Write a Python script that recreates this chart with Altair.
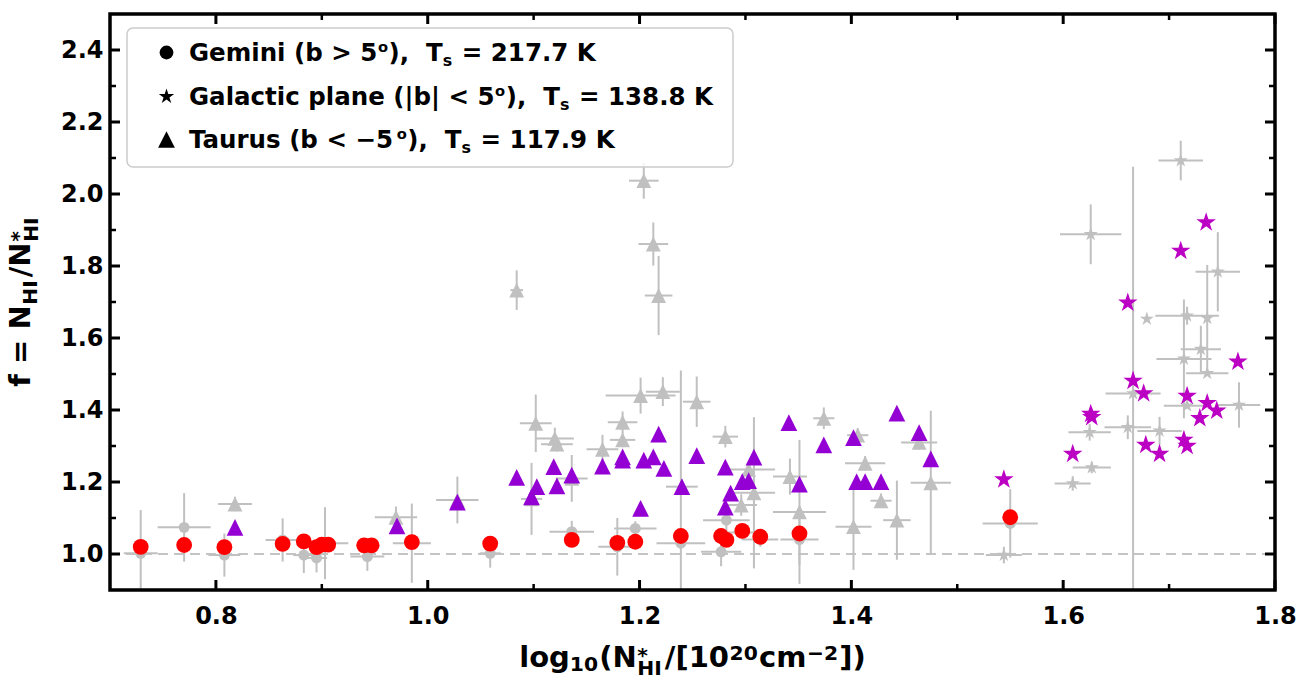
import math
import altair as alt
import pandas as pd

# ---------------------------------------------------------------- data
# Gemini (b > 5 deg): fitted ratio (red) and comparison values with errors (grey)
gem_x = [0.729, 0.770, 0.808, 0.863, 0.883, 0.895, 0.900, 0.906, 0.940, 0.947, 0.985, 1.059,
         1.136, 1.179, 1.196, 1.239, 1.277, 1.282, 1.297, 1.314, 1.351, 1.550]
gem_f = [1.020, 1.025, 1.019, 1.028, 1.035, 1.019, 1.026, 1.026, 1.024, 1.024, 1.033, 1.029,
         1.039, 1.031, 1.034, 1.050, 1.050, 1.039, 1.064, 1.048, 1.057, 1.102]
gem_gx = [0.729, 0.770, 0.808, 0.863, 0.883, 0.895, 0.903, 0.943, 0.985, 1.059, 1.136, 1.179,
          1.196, 1.239, 1.277, 1.282, 1.297, 1.314, 1.351, 1.550]
gem_gf = [1.002, 1.074, 0.997, 1.039, 0.997, 0.989, 1.030, 0.993, 1.030, 1.002, 1.062, 1.020,
          1.071, 1.030, 1.006, 1.094, 1.060, 1.040, 1.040, 1.085]
gem_gxerr = [0.016, 0.025, 0.015, 0.016, 0.010, 0.010, 0.022, 0.016, 0.018, 0.010, 0.021, 0.018,
             0.020, 0.023, 0.019, 0.022, 0.022, 0.017, 0.018, 0.026]
gem_gferr = [0.120, 0.095, 0.060, 0.060, 0.050, 0.040, 0.100, 0.040, 0.110, 0.040, 0.030, 0.080,
             0.020, 0.480, 0.040, 0.030, 0.020, 0.020, 0.070, 0.095]

# Taurus (b < -5 deg)
tau_x = [0.818, 0.971, 1.028, 1.084, 1.098, 1.103, 1.119, 1.122, 1.136, 1.165, 1.184, 1.184,
         1.201, 1.204, 1.213, 1.218, 1.223, 1.240, 1.254, 1.281, 1.281, 1.286, 1.297, 1.303,
         1.308, 1.341, 1.351, 1.374, 1.402, 1.405, 1.413, 1.428, 1.443, 1.464, 1.475]
tau_f = [1.074, 1.078, 1.144, 1.213, 1.159, 1.187, 1.243, 1.189, 1.219, 1.244, 1.270, 1.261,
         1.127, 1.261, 1.270, 1.333, 1.238, 1.187, 1.273, 1.241, 1.130, 1.169, 1.201, 1.204,
         1.269, 1.365, 1.194, 1.303, 1.323, 1.201, 1.201, 1.201, 1.391, 1.337, 1.264]
tau_gx = [0.818, 0.970, 1.028, 1.084, 1.098, 1.102, 1.120, 1.122, 1.136, 1.165, 1.184, 1.184,
          1.201, 1.204, 1.213, 1.218, 1.222, 1.240, 1.254, 1.281, 1.296, 1.303, 1.308, 1.342,
          1.351, 1.374, 1.402, 1.406, 1.413, 1.428, 1.443, 1.464, 1.475]
tau_gf = [1.139, 1.102, 1.150, 1.733, 1.153, 1.363, 1.321, 1.305, 1.210, 1.291, 1.366, 1.317,
          1.440, 2.037, 1.861, 1.718, 1.451, 1.187, 1.423, 1.326, 1.136, 1.235, 1.170, 1.215,
          1.117, 1.377, 1.076, 1.330, 1.252, 1.148, 1.094, 1.310, 1.198]
tau_gxerr = [0.016, 0.020, 0.020, 0.006, 0.010, 0.015, 0.018, 0.015, 0.015, 0.015, 0.014, 0.012,
             0.033, 0.014, 0.014, 0.013, 0.016, 0.015, 0.013, 0.012, 0.015, 0.025, 0.020, 0.016,
             0.025, 0.010, 0.017, 0.010, 0.019, 0.010, 0.013, 0.017, 0.019]
tau_gferr = [0.020, 0.030, 0.065, 0.055, 0.100, 0.080, 0.030, 0.020, 0.065, 0.040, 0.030, 0.020,
             0.050, 0.050, 0.060, 0.110, 0.040, 0.020, 0.070, 0.030, 0.030, 0.020, 0.210, 0.050,
             0.200, 0.030, 0.120, 0.020, 0.020, 0.020, 0.110, 0.020, 0.200]

# Galactic plane (|b| < 5 deg)
gp_x = [1.544, 1.609, 1.626, 1.627, 1.661, 1.666, 1.676, 1.678, 1.691, 1.711, 1.714, 1.717,
        1.717, 1.729, 1.735, 1.736, 1.745, 1.765]
gp_f = [1.207, 1.278, 1.389, 1.380, 1.698, 1.481, 1.446, 1.303, 1.278, 1.842, 1.317, 1.300,
        1.439, 1.377, 1.921, 1.419, 1.398, 1.534]
gp_gx = [1.544, 1.609, 1.627, 1.625, 1.626, 1.661, 1.666, 1.679, 1.691, 1.711, 1.714, 1.717,
         1.717, 1.730, 1.736, 1.736, 1.746, 1.766]
gp_gf = [0.997, 1.196, 1.240, 1.338, 1.888, 1.352, 1.446, 1.653, 1.342, 2.093, 1.542, 1.662,
         1.412, 1.569, 1.655, 1.502, 1.784, 1.414]
gp_gxerr = [0.017, 0.017, 0.018, 0.020, 0.029, 0.022, 0.026, 0.000, 0.021, 0.021, 0.026, 0.030,
            0.022, 0.019, 0.000, 0.020, 0.021, 0.020]
gp_gferr = [0.023, 0.020, 0.016, 0.023, 0.083, 0.033, 0.630, 0.000, 0.039, 0.055, 0.165, 0.025,
            0.000, 0.065, 0.148, 0.000, 0.110, 0.063]

ref_f = [1.0]

legend_names = ["Gemini (b > 5", "Galactic plane (|b| < 5", "Taurus (b < \u22125"]
legend_ts = ["217.7", "138.8", "117.9"]

x_major = [0.8, 1.0, 1.2, 1.4, 1.6, 1.8]
x_minor = [0.9, 1.1, 1.3, 1.5, 1.7]
y_major = [1.0, 1.2, 1.4, 1.6, 1.8, 2.0, 2.2, 2.4]
y_minor = [1.1, 1.3, 1.5, 1.7, 1.9, 2.1, 2.3]

# ---------------------------------------------------------------- style
FONT = "DejaVu Sans"
GREY = "#c0c0c0"
RED = "#ff0000"
VIOLET = "#9400d3"
MAGENTA = "#bb00c4"
W, H = 1165, 576


def star_path(inner=0.382):
    pts = []
    for k in range(10):
        r = 1.0 if k % 2 == 0 else inner
        a = math.radians(-90 + 36 * k)
        pts.append(f"{r * math.cos(a):.4f},{r * math.sin(a):.4f}")
    return "M" + " L".join(pts) + " Z"


STAR = star_path()
TRI = "M0,-1 L-1,1 L1,1 Z"

xscale = alt.Scale(domain=[0.7, 1.8], nice=False, zero=False)
yscale = alt.Scale(domain=[0.9, 2.5], nice=False, zero=False)
axis_common = dict(title=None, grid=False, domain=False, ticks=False, tickSize=0,
                   labelFont=FONT, labelFontSize=24, labelFontWeight="bold",
                   labelColor="black", labelFlush=False, labelOverlap=False, format=".1f")
xaxis = alt.Axis(values=x_major, labelPadding=14, **axis_common)
yaxis = alt.Axis(values=y_major, labelPadding=7, **axis_common)


def X(f):
    return alt.X(f"{f}:Q", scale=xscale, axis=xaxis)


def Y(f):
    return alt.Y(f"{f}:Q", scale=yscale, axis=yaxis)


def grey_frame(x, f, xe, fe):
    d = pd.DataFrame({"x": x, "f": f, "xe": xe, "fe": fe})
    d["xlo"] = d["x"] - d["xe"]
    d["xhi"] = d["x"] + d["xe"]
    d["flo"] = d["f"] - d["fe"]
    d["fhi"] = d["f"] + d["fe"]
    return d


gem_grey = grey_frame(gem_gx, gem_gf, gem_gxerr, gem_gferr)
tau_grey = grey_frame(tau_gx, tau_gf, tau_gxerr, tau_gferr)
gp_grey = grey_frame(gp_gx, gp_gf, gp_gxerr, gp_gferr)
all_grey = pd.concat([gem_grey, tau_grey, gp_grey], ignore_index=True)

one = pd.DataFrame({"k": [0]})

# ---------------------------------------------------------------- rich text helpers
NB = "\u00a0"
SP = 0.348  # width of a space, em
EM = {
    " ": SP, NB: SP, "(": 0.457, ")": 0.457, "[": 0.457, "]": 0.457,
    "*": 0.500, ",": 0.380, ".": 0.380, "/": 0.365, "|": 0.365, "=": 0.838,
    "<": 0.838, ">": 0.838, "\u2212": 0.838, "-": 0.415,
    "A": 0.774, "G": 0.821, "H": 0.837, "I": 0.372, "K": 0.775, "N": 0.837, "T": 0.682,
    "a": 0.675, "b": 0.716, "c": 0.593, "e": 0.678, "f": 0.435, "g": 0.716, "i": 0.343,
    "l": 0.343, "m": 1.042, "n": 0.712, "o": 0.687, "p": 0.716, "r": 0.493, "s": 0.595,
    "t": 0.478, "u": 0.712,
}


def text_w(t, size):
    return sum(EM.get(ch, 0.696) for ch in t) * size


def layout_runs(runs, size, start, base, vertical=False):
    """runs: (text, scale, rise_em, advances, gap_after_em)."""
    off = 0.0
    pieces = []
    for t, s, rise, adv, gap in runs:
        fs = size * s
        if vertical:
            pieces.append((t, fs, base - rise * size, start - off, 270))
        else:
            pieces.append((t, fs, start + off, base - rise * size, 0))
        if adv:
            off += text_w(t, fs) + gap * size
    return pieces


def runs_width(runs, size):
    return sum(text_w(t, size * s) + g * size for t, s, _, a, g in runs if a)


def text_layers(pieces):
    out = []
    for t, fs, x, y, ang in pieces:
        out.append(
            alt.Chart(one)
            .mark_text(text=t.replace(" ", NB), font=FONT, fontWeight="bold", fontSize=fs,
                       color="black", align="left", baseline="alphabetic", angle=ang)
            .encode(x=alt.value(x), y=alt.value(y))
        )
    return out


# ---------------------------------------------------------------- layers
layers = []

# reference line f = 1
layers.append(
    alt.Chart(pd.DataFrame({"f": ref_f}))
    .mark_rule(color="#c4c4c4", strokeWidth=2.2, strokeDash=[10, 6])
    .encode(x=alt.value(0), x2=alt.value(W), y=Y("f"))
)

# grey error bars
layers.append(
    alt.Chart(all_grey).mark_rule(color=GREY, strokeWidth=2, clip=True)
    .encode(x=X("xlo"), x2=alt.X2("xhi"), y=Y("f"))
)
layers.append(
    alt.Chart(all_grey).mark_rule(color=GREY, strokeWidth=2, clip=True)
    .encode(x=X("x"), y=Y("flo"), y2=alt.Y2("fhi"))
)

# grey markers
for frame, shape, size in [(gem_grey, "circle", 120), (tau_grey, TRI, 220), (gp_grey, STAR, 220)]:
    layers.append(
        alt.Chart(frame).mark_point(shape=shape, filled=True, size=size, color=GREY,
                                    opacity=1, strokeWidth=0)
        .encode(x=X("x"), y=Y("f"))
    )

# coloured markers
for xs, fs, shape, size, col in [(tau_x, tau_f, TRI, 280, VIOLET),
                                 (gp_x, gp_f, STAR, 420, MAGENTA),
                                 (gem_x, gem_f, "circle", 250, RED)]:
    layers.append(
        alt.Chart(pd.DataFrame({"x": xs, "f": fs}))
        .mark_point(shape=shape, filled=True, size=size, color=col, opacity=1, strokeWidth=0)
        .encode(x=X("x"), y=Y("f"))
    )


# minor / major ticks pointing inwards on all four sides
def tick_layers(vals, length, width):
    d = pd.DataFrame({"v": vals})
    m = dict(color="black", strokeWidth=width)
    return [
        alt.Chart(d).mark_rule(**m).encode(x=X("v"), y=alt.value(H), y2=alt.value(H - length)),
        alt.Chart(d).mark_rule(**m).encode(x=X("v"), y=alt.value(0), y2=alt.value(length)),
    ]


def ytick_layers(vals, length, width):
    d = pd.DataFrame({"v": vals})
    m = dict(color="black", strokeWidth=width)
    return [
        alt.Chart(d).mark_rule(**m).encode(y=Y("v"), x=alt.value(0), x2=alt.value(length)),
        alt.Chart(d).mark_rule(**m).encode(y=Y("v"), x=alt.value(W), x2=alt.value(W - length)),
    ]


layers += tick_layers(x_major, 10, 3) + tick_layers(x_minor, 6, 2.5)
layers += ytick_layers(y_major, 10, 3) + ytick_layers(y_minor, 6, 2.5)

# frame
layers.append(
    alt.Chart(one).mark_rect(fillOpacity=0, stroke="black", strokeWidth=3.5)
    .encode(x=alt.value(0), x2=alt.value(W), y=alt.value(0), y2=alt.value(H))
)

# legend
layers.append(
    alt.Chart(one).mark_rect(fill="white", fillOpacity=0.85, stroke="#cccccc", strokeWidth=1.5,
                             cornerRadius=6)
    .encode(x=alt.value(17), x2=alt.value(623), y=alt.value(14), y2=alt.value(153))
)
LEG_ROW = [38.5, 82.5, 125.5]
for shape, size, ry in [("circle", 190, LEG_ROW[0]), (STAR, 260, LEG_ROW[1]), (TRI, 280, LEG_ROW[2])]:
    layers.append(
        alt.Chart(one).mark_point(shape=shape, filled=True, size=size, color="black",
                                  opacity=1, strokeWidth=0)
        .encode(x=alt.value(56.5), y=alt.value(ry))
    )
LEG_SIZE = 24.5
for name, ts, ry in zip(legend_names, legend_ts, LEG_ROW):
    runs = [(name, 1, 0, True, 0.02), ("o", 0.6, 0.38, True, 0.02),
            ("),", 1, 0, True, 2 * SP), ("T", 1, 0, True, 0.0),
            ("s", 0.65, -0.2, True, SP + 0.04), (f"= {ts} K", 1, 0, True, 0.0)]
    layers += text_layers(layout_runs(runs, LEG_SIZE, 79, ry + 8.5))

# axis titles
TITLE_SIZE = 29
xt_runs = [("log", 1, 0, True, 0.0), ("10", 0.7, -0.17, True, 0.04), ("(", 1, 0, True, 0.0),
           ("N", 1, 0, True, 0.02), ("*", 0.7, 0.17, False, 0.0), ("HI", 0.7, -0.29, True, 0.1),
           ("/", 1, 0, True, 0.0), ("[", 1, 0, True, 0.0), ("10", 1, 0, True, 0.02),
           ("20", 0.7, 0.24, True, 0.04), ("cm", 1, 0, True, 0.02), ("\u22122", 0.7, 0.24, True, 0.04),
           ("]", 1, 0, True, 0.0), (")", 1, 0, True, 0.0)]
layers += text_layers(layout_runs(xt_runs, TITLE_SIZE, W / 2 - runs_width(xt_runs, TITLE_SIZE) / 2, 652.5))

yt_runs = [("f", 1, 0, True, SP), ("=", 1, 0, True, SP), ("N", 1, 0, True, 0.02),
           ("HI", 0.7, -0.24, True, 0.1), ("/", 1, 0, True, 0.0), ("N", 1, 0, True, 0.02),
           ("*", 0.7, 0.17, False, 0.0), ("HI", 0.7, -0.27, True, 0.0)]
layers += text_layers(layout_runs(yt_runs, TITLE_SIZE, H / 2 + runs_width(yt_runs, TITLE_SIZE) / 2, -80,
                                  vertical=True))

chart = (
    alt.layer(*layers)
    .properties(width=W, height=H, autosize=alt.AutoSizeParams(type="none"),
                padding={"left": 110, "top": 14, "right": 36, "bottom": 108})
    .configure_view(stroke="transparent")
    .configure(font=FONT)
)

chart.save("out.html", embed_options={"renderer": "svg", "actions": False})
